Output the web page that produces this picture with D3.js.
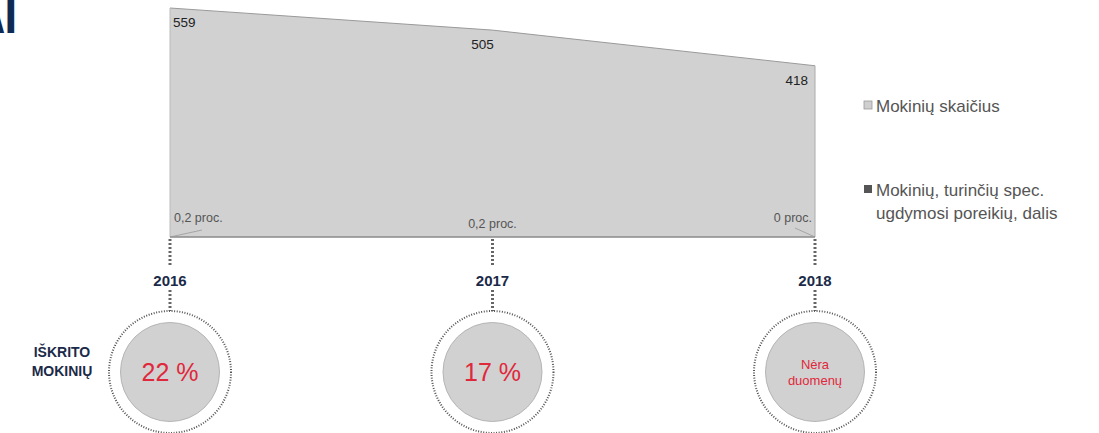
<!DOCTYPE html>
<html><head><meta charset="utf-8">
<script src="https://cdn.jsdelivr.net/npm/d3@7"></script>
<style>body{margin:0;background:#fff;}svg{display:block;font-family:"Liberation Sans",Arial,sans-serif;}</style>
</head><body>
<svg id="c" width="1099" height="433"></svg>
<script>
const years = ["2016","2017","2018"];
const students = [559, 505, 418];
const specShareLabels = ["0,2 proc.", "0,2 proc.", "0 proc."];
const dropoutLabels = ["22 %", "17 %", "Nėra\nduomenų"];
const legendLabels = ["Mokinių skaičius", "Mokinių, turinčių spec.\nugdymosi poreikių, dalis"];

const svg = d3.select("#c");
const x = d3.scalePoint().domain(years).range([170, 815]);
const y = d3.scaleLinear().domain([0, 559]).range([237, 8]);
const data = years.map((yr,i)=>({yr, v:students[i]}));

// title fragment (cut at the left edge, as in the reference)
svg.append("text").attr("x",-27).attr("y",33).attr("font-size",46).attr("font-weight","bold")
  .style("font-stretch","condensed")
  .attr("font-family","'DejaVu Sans Condensed','DejaVu Sans',sans-serif")
  .attr("transform","translate(0,33) scale(0.85,1) translate(0,-33)")
  .attr("fill","#0f2a52").text("AI");

// area
const area = d3.area().x(d=>x(d.yr)).y0(y(0)).y1(d=>y(d.v)).curve(d3.curveLinear);
svg.append("path").datum(data).attr("d",area).attr("fill","#d1d1d1").attr("stroke","none");
svg.append("path").datum(data).attr("d",d3.line().x(d=>x(d.yr)).y(d=>y(d.v)))
  .attr("fill","none").attr("stroke","#9a9a9a").attr("stroke-width",1);
svg.append("line").attr("x1",x("2018")).attr("x2",x("2018")).attr("y1",y(418)).attr("y2",y(0)).attr("stroke","#aaa");
svg.append("line").attr("x1",x("2016")).attr("x2",x("2016")).attr("y1",y(559)).attr("y2",y(0)).attr("stroke","#bbb");
svg.append("line").attr("x1",x("2016")).attr("x2",x("2018")).attr("y1",y(0)).attr("y2",y(0)).attr("stroke","#8a8a8a").attr("stroke-width",1.5);

// value labels
const valAnchor = ["start","middle","end"];
const valDx = [3, -10, -7];
data.forEach((d,i)=>{
  svg.append("text").attr("x",x(d.yr)+valDx[i]).attr("y",y(d.v)+19)
    .attr("text-anchor",valAnchor[i]).attr("font-size",13.5).attr("fill","#222").text(d.v);
});

// spec share labels with leader lines
const specPos = [{dx:4,dy:-15,anchor:"start",lx:32,ly:-7},{dx:0,dy:-9,anchor:"middle",lx:0,ly:0},{dx:-3,dy:-15,anchor:"end",lx:-20,ly:-9}];
years.forEach((yr,i)=>{
  const p = specPos[i];
  svg.append("text").attr("x",x(yr)+p.dx).attr("y",y(0)+p.dy).attr("text-anchor",p.anchor)
    .attr("font-size",12.5).attr("fill","#555").text(specShareLabels[i]);
  if (p.lx!==0) svg.append("line").attr("x1",x(yr)).attr("y1",y(0)).attr("x2",x(yr)+p.lx).attr("y2",y(0)+p.ly)
    .attr("stroke","#999").attr("stroke-width",0.8);
});

// timeline
const cy = 372;
years.forEach((yr,i)=>{
  const cx = x(yr);
  svg.append("line").attr("x1",cx).attr("x2",cx).attr("y1",239).attr("y2",265)
    .attr("stroke","#666").attr("stroke-width",3).attr("stroke-dasharray","2,2");
  svg.append("line").attr("x1",cx).attr("x2",cx).attr("y1",290).attr("y2",311)
    .attr("stroke","#666").attr("stroke-width",3).attr("stroke-dasharray","2,2");
  svg.append("text").attr("x",cx).attr("y",286).attr("text-anchor","middle")
    .attr("font-size",15).attr("font-weight","bold").attr("fill","#1a2a48").text(yr);
  svg.append("circle").attr("cx",cx).attr("cy",cy).attr("r",61).attr("fill","none")
    .attr("stroke","#555").attr("stroke-width",2).attr("stroke-dasharray","1,1.6");
  svg.append("circle").attr("cx",cx).attr("cy",cy).attr("r",49.5).attr("fill","#d1d1d1")
    .attr("stroke","#b5b5b5").attr("stroke-width",1);
  const lines = dropoutLabels[i].split("\n");
  if (lines.length===1) {
    svg.append("text").attr("x",cx).attr("y",cy+9).attr("text-anchor","middle")
      .attr("font-size",25).attr("fill","#e0283c").text(lines[0]);
  } else {
    lines.forEach((t,j)=>svg.append("text").attr("x",cx).attr("y",cy-3+j*16).attr("text-anchor","middle")
      .attr("font-size",13).attr("fill","#e0283c").text(t));
  }
});

svg.append("text").attr("x",62).attr("y",357).attr("text-anchor","middle").attr("font-size",14)
  .attr("font-weight","bold").attr("fill","#1a2a48").text("IŠKRITO");
svg.append("text").attr("x",62).attr("y",376).attr("text-anchor","middle").attr("font-size",14)
  .attr("font-weight","bold").attr("fill","#1a2a48").text("MOKINIŲ");

// legend
const legY = [104, 188];
const legFill = ["#cfcfcf","#555"];
legendLabels.forEach((lab,i)=>{
  svg.append("rect").attr("x",864).attr("y",legY[i]-3).attr("width",8).attr("height",8)
    .attr("fill",legFill[i]).attr("stroke",i===0?"#999":"none").attr("stroke-width",0.8);
  lab.split("\n").forEach((t,j)=>svg.append("text").attr("x",876).attr("y",legY[i]+8+j*23)
    .attr("font-size",17).attr("fill","#555").text(t));
});
</script>
</body></html>
